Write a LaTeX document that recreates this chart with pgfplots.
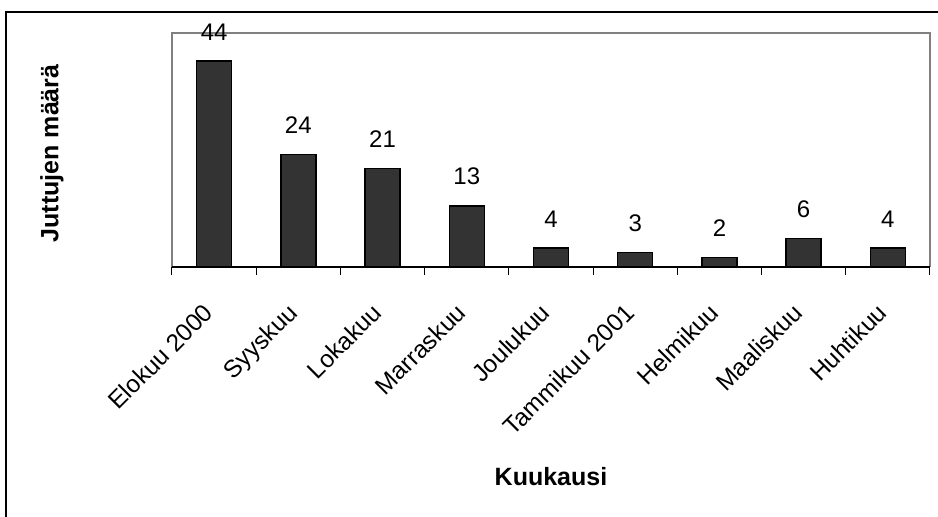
\documentclass[border=0pt]{standalone}
\usepackage{fontspec}
\setmainfont{Liberation Sans}
\usepackage{pgfplots}
\pgfplotsset{compat=1.18}
\definecolor{barfill}{HTML}{333333}
\definecolor{frame}{HTML}{808080}
\newcommand{\lblfont}{\fontsize{24.5pt}{28pt}\selectfont}
\newcommand{\numfont}{\fontsize{24pt}{28pt}\selectfont}
\newcommand{\ttlfont}{\fontsize{25pt}{29pt}\selectfont\bfseries}

\begin{document}
\begin{tikzpicture}
\path[use as bounding box] (0pt,0pt) rectangle (938pt,-517pt);
% outer frame, cut off at the right and bottom edges
\draw[line width=2.5pt] (6pt,-530pt) -- (6pt,-12pt) -- (950pt,-12pt);
\begin{axis}[
  at={(172pt,-266.7pt)}, anchor=south west,
  scale only axis, width=758pt, height=233.7pt,
  clip=false,
  ybar, bar width=35pt,
  xmin=-0.5, xmax=8.5, ymin=0, ymax=50,
  axis line style={frame, line width=1.2pt},
  xtick pos=bottom, ytick=\empty,
  xtick={0,...,8},
  xticklabels={Elokuu 2000, Syyskuu, Lokakuu, Marraskuu, Joulukuu, Tammikuu 2001, Helmikuu, Maaliskuu, Huhtikuu},
  major tick length=0pt,
  minor xtick={-0.5,0.5,...,8.5}, minor tick length=8pt, tick align=outside,
  every tick/.style={black, line width=1pt},
  xticklabel style={font=\lblfont, inner sep=0pt, xshift=-12pt, yshift=-35pt, rotate=45, anchor=north east},
  xlabel={Kuukausi},
  xlabel style={font=\ttlfont, at={(axis description cs:0.5,-0.938)}, anchor=base},
  ylabel={Juttujen määrä},
  ylabel style={font=\ttlfont, at={(axis description cs:-0.150,0.485)}, anchor=base},
  nodes near coords,
  /pgf/number format/assume math mode=true,
  every node near coord/.append style={font=\numfont, black, anchor=south, inner sep=0pt, yshift=20pt},
]
\addplot[fill=barfill, draw=black, line width=1.5pt] coordinates {
  (0,44) (1,24) (2,21) (3,13) (4,4) (5,3) (6,2) (7,6) (8,4)
};
\draw[black, line width=1.8pt] (rel axis cs:0,0) -- (rel axis cs:1,0);
\end{axis}
\end{tikzpicture}
\end{document}
